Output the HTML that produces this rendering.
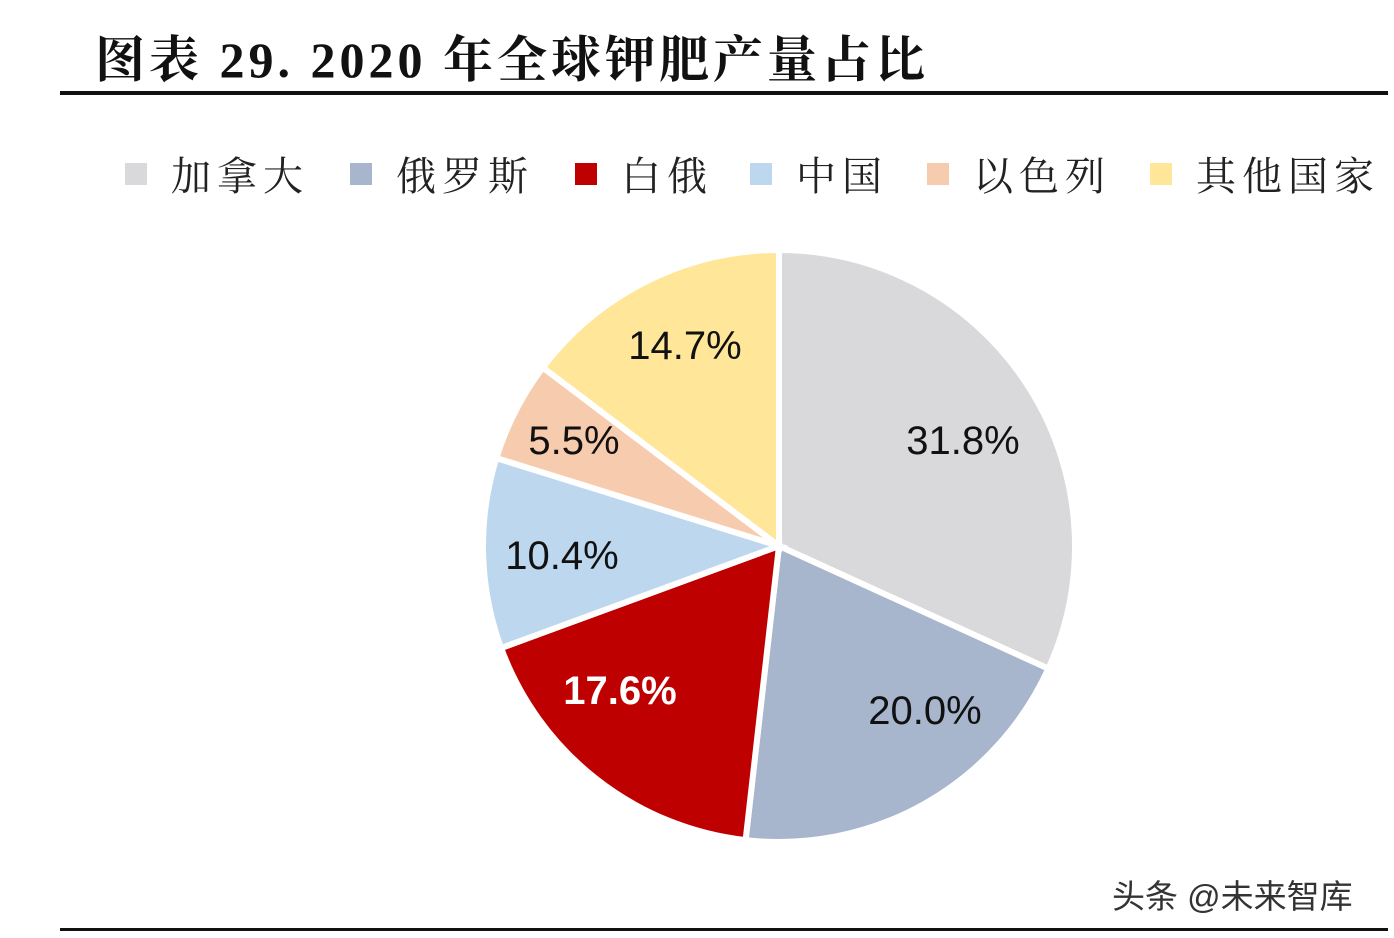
<!DOCTYPE html>
<html><head><meta charset="utf-8"><style>
body{margin:0;background:#fff;width:1394px;height:938px;overflow:hidden;position:relative;font-family:"Liberation Sans","Noto Sans CJK SC",sans-serif}
.t{position:absolute;left:95px;top:20px;font-family:"Liberation Serif","Noto Serif CJK SC",serif;font-weight:bold;font-size:50px;color:#111;letter-spacing:4px}
.ln{position:absolute;left:60px;width:1328px;background:#111}
.lg{position:absolute;top:145px;font-family:"Liberation Serif","Noto Serif CJK SC",serif;font-size:40px;color:#222;letter-spacing:6px;display:flex;align-items:center}
.lg span{display:inline-block;width:22px;height:22px;margin-right:24px}
.wm{position:absolute;left:1112px;top:870px;font-size:33px;color:#333}
</style></head><body>
<div class="t">图表 29. 2020 年全球钾肥产量占比</div>
<div class="ln" style="top:91px;height:4px"></div>
<div class="ln" style="top:928px;height:3px"></div>
<div id="legend"></div>
<svg id="pie" width="1394" height="938" style="position:absolute;left:0;top:0"></svg>
<div class="wm">头条 @未来智库</div>
<script>
const categories=["加拿大","俄罗斯","白俄","中国","以色列","其他国家"];
const values=[31.8,20.0,17.6,10.4,5.5,14.7];
const labels=["31.8%","20.0%","17.6%","10.4%","5.5%","14.7%"];
const colors=["#d9d9dc","#a7b6cd","#bf0000","#bdd7ee","#f7cbad","#ffe699"];
const legendX=[125,350,575,750,927,1150];
const labelPos=[[963,440],[925,710],[620,690],[562,555],[574,440],[685,345]];
const cx=779,cy=546,r=296;
const svg=document.getElementById('pie');
const NS="http://www.w3.org/2000/svg";
const total=values.reduce((a,b)=>a+b,0);
let a0=0;
values.forEach((v,i)=>{
  const a1=a0+v/total*2*Math.PI;
  const p=(a)=>[cx+r*Math.sin(a),cy-r*Math.cos(a)];
  const [x0,y0]=p(a0),[x1,y1]=p(a1);
  const path=document.createElementNS(NS,'path');
  path.setAttribute('d',`M${cx},${cy}L${x0},${y0}A${r},${r} 0 ${a1-a0>Math.PI?1:0} 1 ${x1},${y1}Z`);
  path.setAttribute('fill',colors[i]);path.setAttribute('stroke','#fff');path.setAttribute('stroke-width','6');
  
  
  svg.appendChild(path);
  a0=a1;
});
labels.forEach((l,i)=>{
  const t=document.createElementNS(NS,'text');
  t.setAttribute('x',labelPos[i][0]);t.setAttribute('y',labelPos[i][1]+14);
  t.setAttribute('text-anchor','middle');t.setAttribute('font-size','40');
  t.setAttribute('font-family','"Liberation Sans",sans-serif');
  t.setAttribute('fill',i==2?'#fff':'#111');
  if(i==2)t.setAttribute('font-weight','bold');
  t.textContent=l;
  
  
  svg.appendChild(t);
});
const lg=document.getElementById('legend');
categories.forEach((c,i)=>{
  const d=document.createElement('div');d.className='lg';d.style.left=legendX[i]+'px';
  d.innerHTML=`<span style="background:${colors[i]}"></span>${c}`;
  
  
  lg.appendChild(d);
});
</script>
</body></html>
